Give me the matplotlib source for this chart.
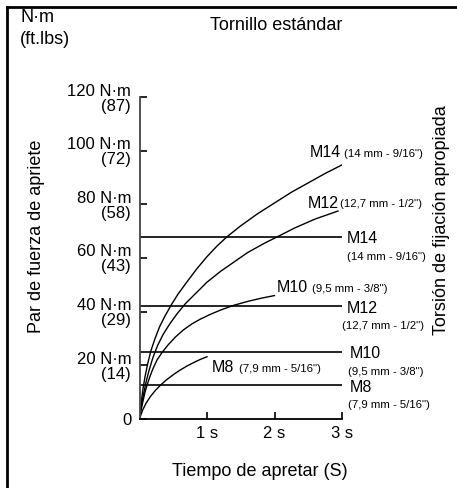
import matplotlib.pyplot as plt
from matplotlib.lines import Line2D

# ***** data *****
# recommended tightening torque (horizontal lines), N·m
sizes = ["M14", "M12", "M10", "M8"]
size_notes = ['(14 mm - 9/16")', '(12,7 mm - 1/2")', '(9,5 mm - 3/8")', '(7,9 mm - 5/16")']
recommended_nm = [68, 42, 25, 12.5]

# torque curves vs tightening time (s)
m14_t = [0, 0.02, 0.05, 0.08, 0.12, 0.17, 0.23, 0.3, 0.38, 0.47, 0.57, 0.7, 0.85, 1.0,
         1.15, 1.3, 1.5, 1.75, 2.0, 2.25, 2.5, 2.75, 3.0]
m14_nm = [0, 5, 11, 15.5, 20.5, 25.5, 30, 34.5, 38.5, 42.5, 46.5, 51, 56, 60.5,
          64.5, 68, 72, 76.5, 80.5, 84.5, 88, 91.5, 94.7]
m12_t = [0, 0.02, 0.05, 0.09, 0.14, 0.2, 0.27, 0.35, 0.45, 0.55, 0.68, 0.82, 1.0,
         1.2, 1.4, 1.6, 1.85, 2.05, 2.3, 2.6, 2.94]
m12_nm = [0, 3.5, 8, 13, 18, 23, 27.5, 31.5, 35.5, 39, 43, 46.5, 51,
          55, 58.5, 62, 65.5, 68, 71.2, 74.5, 77.5]
m10_t = [0, 0.02, 0.05, 0.08, 0.11, 0.15, 0.2, 0.26, 0.34, 0.43, 0.53, 0.65, 0.78,
         0.9, 1.05, 1.2, 1.4, 1.6, 1.8, 2.0]
m10_nm = [0, 3, 6.5, 9.8, 12.5, 15.5, 18.8, 22, 25, 27.8, 30.5, 33.2, 35.5,
          37.2, 39, 40.6, 42.4, 43.8, 45, 46]
m8_t = [0, 0.02, 0.05, 0.1, 0.16, 0.23, 0.31, 0.4, 0.5, 0.6, 0.7, 0.8, 0.9, 1.0]
m8_nm = [0, 1.5, 3.5, 6, 8.3, 10.5, 12.6, 14.6, 16.5, 18.2, 19.7, 21.0, 22.2, 23.2]

y_ticks = [0, 20, 40, 60, 80, 100, 120]
y_ft_lbs = [0, 14, 29, 43, 58, 72, 87]
x_ticks = [1, 2, 3]
x_tick_labels = ["1 s", "2 s", "3 s"]

W, H = 457, 488
FONT = ["Liberation Sans", "DejaVu Sans"]
BIG = 13      # titles / axis labels
MID = 12      # tick labels
LBL = 11.5    # M14, M12 ...
SMALL = 8.2   # (14 mm - 9/16") ...


def fp(x, y):
    """pixel position -> figure fraction"""
    return x / W, 1 - y / H


fig = plt.figure(figsize=(W / 100, H / 100), dpi=100)
ax = fig.add_axes([139.5 / W, 1 - 419 / H, (342 - 139.5) / W, (419 - 97) / H])

# curves
curves = [(m14_t, m14_nm), (m12_t, m12_nm), (m10_t, m10_nm), (m8_t, m8_nm)]
for t, nm in curves:
    ax.plot(t, nm, color="black", lw=1.0)

# recommended torque lines
ax.hlines(recommended_nm, 0, 3, color="black", lw=1.2)

ax.set_xlim(0, 3)
ax.set_ylim(0, 120)
for s in ["top", "right"]:
    ax.spines[s].set_visible(False)
for s in ["left", "bottom"]:
    ax.spines[s].set_linewidth(1.3)
ax.spines["left"].set_color("#444444")

ax.set_xticks(x_ticks)
ax.set_xticklabels(x_tick_labels, family=FONT, fontsize=MID)
ylabels = ["0"] + [f"{v} N·m\n({f})" for v, f in zip(y_ticks[1:], y_ft_lbs[1:])]
ax.set_yticks(y_ticks)
ax.set_yticklabels(ylabels, family=FONT, fontsize=MID, linespacing=1.0)
ax.tick_params(direction="in", length=5, width=1.2, pad=5)
ax.tick_params(axis="y", pad=6)

# labels on the right of the horizontal lines
name_dx = {"M14": 5, "M12": 5, "M10": 8, "M8": 8}
note_dx = {"M14": 5, "M12": 0, "M10": 6, "M8": 6}
for name, note, v in zip(sizes, size_notes, recommended_nm):
    ax.annotate(name, xy=(3, v), xytext=(name_dx[name], -2), textcoords="offset pixels",
                ha="left", va="center", family=FONT, fontsize=LBL, annotation_clip=False)
    ax.annotate(note, xy=(3, v), xytext=(note_dx[name], -20), textcoords="offset pixels",
                ha="left", va="center", family=FONT, fontsize=SMALL, annotation_clip=False)

# labels at the end of each curve
curve_label_offsets = [(-32, 12, 2, 11), (-30, 8, 2, 7), (2, 8, 37, 7), (5, -11, 32, -12)]
for (t, nm), name, note, (bx, by, sx, sy) in zip(curves, sizes, size_notes, curve_label_offsets):
    end = (t[-1], nm[-1])
    ax.annotate(name, xy=end, xytext=(bx, by), textcoords="offset pixels",
                ha="left", va="center", family=FONT, fontsize=LBL, annotation_clip=False)
    ax.annotate(note, xy=end, xytext=(sx, sy), textcoords="offset pixels",
                ha="left", va="center", family=FONT, fontsize=SMALL, annotation_clip=False)

# texts around the chart
fig.text(*fp(20, 18), "N·m", ha="left", va="center", family=FONT, fontsize=BIG)
fig.text(*fp(20, 40), "(ft.lbs)", ha="left", va="center", family=FONT, fontsize=BIG)
fig.text(*fp(276, 26), "Tornillo estándar", ha="center", va="center", family=FONT, fontsize=BIG)
fig.text(*fp(37, 236), "Par de fuerza de apriete", rotation=90, ha="center", va="center",
         family=FONT, fontsize=BIG)
fig.text(*fp(442, 220), "Torsión de fijación apropiada", rotation=90, ha="center", va="center",
         family=FONT, fontsize=BIG)
fig.text(*fp(260, 471), "Tiempo de apretar (S)", ha="center", va="center", family=FONT, fontsize=BIG)

# frame on the left and top edges
fig.add_artist(Line2D([7 / W, 7 / W], [0, 1 - 7 / H], color="black", lw=2))
fig.add_artist(Line2D([7 / W, 1], [1 - 7 / H, 1 - 7 / H], color="black", lw=2))

fig.savefig("out.png", dpi=100)
